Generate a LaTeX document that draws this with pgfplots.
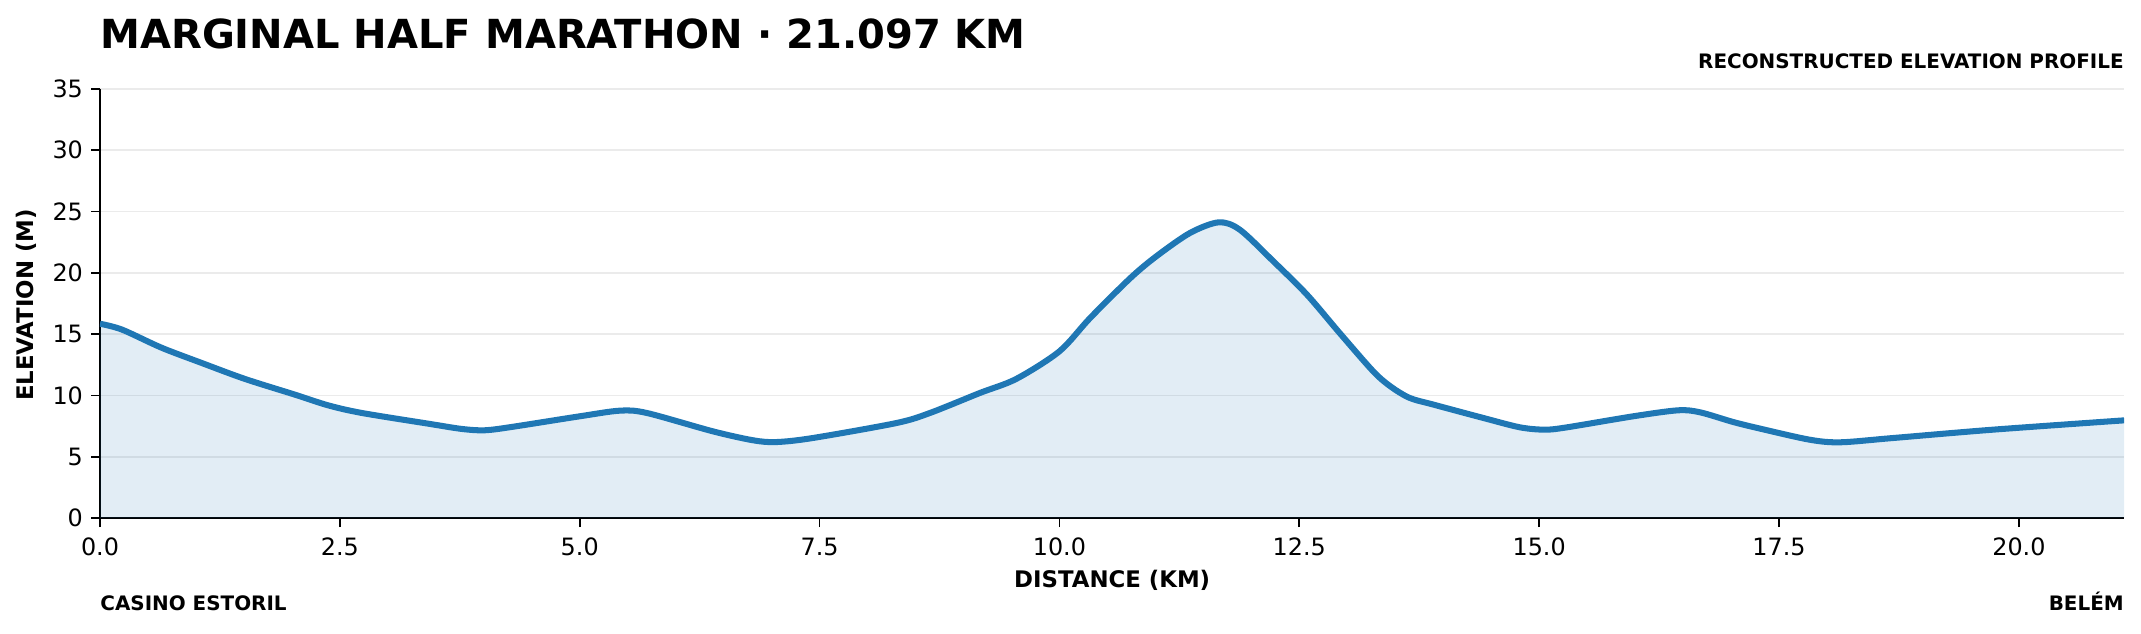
\documentclass[border=0pt]{standalone}
\usepackage{fontspec}
\setmainfont{DejaVu Sans}
\usepackage{pgfplots}
\pgfplotsset{compat=1.18}
\usepackage{pgfplotstable}

\definecolor{tabblue}{HTML}{1F77B4}
\definecolor{gridgray}{HTML}{EBEBEB}

% elevation profile
\pgfplotstableread{
km      elev
0.00    15.85
0.23    15.37
0.64    13.90
1.06    12.65
1.51    11.35
2.03    10.07
2.38    9.19
2.73    8.57
3.42    7.70
3.77    7.27
4.01    7.16
4.29    7.43
5.00    8.30
5.42    8.76
5.70    8.57
6.39    7.07
6.81    6.34
7.05    6.20
7.43    6.53
8.30    7.75
8.65    8.57
9.17    10.20
9.55    11.35
10.00   13.60
10.32   16.32
10.74   19.58
11.01   21.35
11.36   23.25
11.66   24.12
11.88   23.52
12.23   20.94
12.58   18.22
12.92   15.10
13.27   11.97
13.45   10.74
13.65   9.80
13.90   9.25
14.42   8.16
14.80   7.40
15.06   7.21
15.29   7.40
15.98   8.30
16.45   8.79
16.68   8.62
17.02   7.84
17.30   7.30
17.82   6.39
18.14   6.18
18.69   6.53
19.73   7.21
21.097  7.97
}\profile

\begin{document}
\begin{tikzpicture}
\useasboundingbox (0,0) rectangle (1027.8bp,303.9bp);
\begin{axis}[
    at={(48bp,55.2bp)}, anchor=south west,
    scale only axis,
    width=971.7bp, height=206bp,
    xmin=0, xmax=21.097,
    ymin=0, ymax=35,
    axis lines=left,
    axis line style={-, black, line width=0.8pt},
    tick align=outside,
    major tick length=4.3bp,
    tick style={black, line width=0.8pt},
    xtick={0,2.5,...,20},
    ytick={0,5,...,35},
    xticklabel={\pgfmathprintnumber[fixed,fixed zerofill,precision=1]{\tick}},
    scaled ticks=false,
    /pgf/number format/assume math mode=true,
    ticklabel style={font=\fontsize{11.5}{13}\selectfont},
    xticklabel style={anchor=base, yshift=-17.8bp+4.3bp},
    yticklabel style={anchor=east, inner sep=0pt, xshift=-3.7bp},
    ymajorgrids,
    major grid style={gridgray, line width=0.8pt},
]
\addplot[draw=none, fill=tabblue, fill opacity=0.13, smooth, tension=0.5]
    table[x=km, y=elev] {\profile} \closedcycle;
\addplot[tabblue, line width=2.9bp, smooth, tension=0.5]
    table[x=km, y=elev] {\profile};
\end{axis}

\node[anchor=base west, inner sep=0pt, font=\fontsize{19.3}{22}\selectfont\bfseries]
    at (48bp,280.4bp) {MARGINAL HALF MARATHON · 21.097 KM};
\node[anchor=base east, inner sep=0pt, font=\fontsize{9.6}{11}\selectfont\bfseries]
    at (1019.7bp,271.2bp) {RECONSTRUCTED ELEVATION PROFILE};
\node[rotate=90, inner sep=0pt, font=\fontsize{11}{13}\selectfont\bfseries]
    at (12.8bp,157.5bp) {ELEVATION (M)};
\node[anchor=base, inner sep=0pt, font=\fontsize{11}{13}\selectfont\bfseries]
    at (533.9bp,22.1bp) {DISTANCE (KM)};
\node[anchor=base west, inner sep=0pt, font=\fontsize{9.6}{11}\selectfont\bfseries]
    at (48bp,11bp) {CASINO ESTORIL};
\node[anchor=base east, inner sep=0pt, font=\fontsize{9.6}{11}\selectfont\bfseries]
    at (1019.7bp,11bp) {BELÉM};
\end{tikzpicture}
\end{document}
